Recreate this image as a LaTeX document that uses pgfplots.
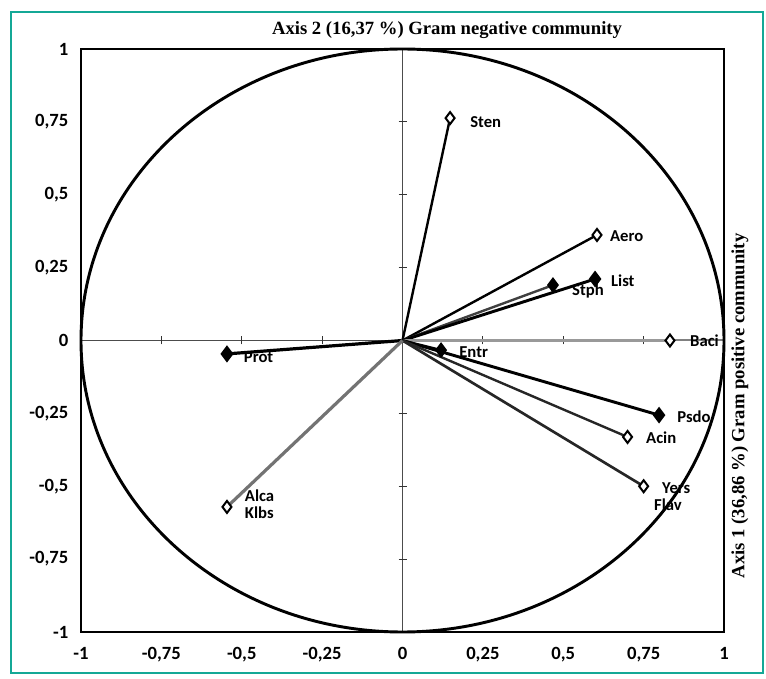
\documentclass[border=0pt]{standalone}
\usepackage{pgfplots}
\pgfplotsset{compat=1.18}
\usepackage{fontspec}
\setmainfont{Carlito}
\newfontfamily\serifb{Liberation Serif}
\definecolor{teal1}{RGB}{20,168,150}
\begin{document}
\begin{tikzpicture}[x=0.75pt,y=0.75pt]
\useasboundingbox (-81,-46) rectangle (685,632);
\draw[teal1,line width=2.2pt] (-70,-41) rectangle (682,620);
\begin{axis}[
  at={(0,0)}, anchor=south west,
  width=482.25pt, height=437.25pt, scale only axis,
  xmin=-1, xmax=1, ymin=-1, ymax=1,
  xtick={-1,-0.75,...,1}, ytick={-1,-0.75,...,1},
  /pgf/number format/use comma,
  /pgf/number format/assume math mode=true,
  tick style={draw=none},
  ticklabel style={font=\fontsize{14}{15}\selectfont\bfseries},
  xticklabel style={yshift=-8pt},
  yticklabel style={xshift=-6pt},
  axis line style={line width=2.2pt},
  clip=false,
]
% zero lines
\draw[gray!60!black,line width=1.2pt] (axis cs:0,-1) -- (axis cs:0,1);
\draw[gray,line width=1.5pt] (axis cs:0,0) -- (axis cs:1,0);
\draw[gray!60!black,line width=1.3pt] (axis cs:-1,0) -- (axis cs:0,0);
\pgfplotsinvokeforeach{-0.75,-0.5,-0.25,0.25,0.5,0.75}{
  \draw[black!80,line width=0.8pt] (axis cs:#1,0) ++(0pt,-3pt) -- ++(0pt,6pt);
  \draw[black!80,line width=0.8pt] (axis cs:0,#1) ++(-3pt,0pt) -- ++(6pt,0pt);
}
% circle
\draw[black,line width=2.2pt] (axis cs:0,0) ellipse [x radius=1, y radius=1];
% vectors
\tikzset{openm/.style={mark=diamond*,mark indices={2},mark size=4.5pt,mark options={fill=white,draw=black,line width=1.5pt,solid}},
         fullm/.style={mark=diamond*,mark indices={2},mark size=4.5pt,mark options={fill=black,draw=black,solid}}}
\addplot[black,line width=1.8pt,openm] coordinates {(0,0) (0.148,0.763)};
\addplot[black,line width=1.8pt,openm] coordinates {(0,0) (0.605,0.362)};
\addplot[black!75,line width=1.8pt,fullm] coordinates {(0,0) (0.468,0.190)};
\addplot[black,line width=2.2pt,fullm] coordinates {(0,0) (0.599,0.211)};
\addplot[gray!80,line width=1.8pt,openm] coordinates {(0,0) (0.832,0.0)};
\addplot[black,line width=1.8pt,fullm] coordinates {(0,0) (0.12,-0.033)};
\addplot[black,line width=2.2pt,fullm] coordinates {(0,0) (0.798,-0.256)};
\addplot[black!85,line width=1.8pt,openm] coordinates {(0,0) (0.70,-0.331)};
\addplot[black!85,line width=2pt,openm] coordinates {(0,0) (0.75,-0.50)};
\addplot[black,line width=2.4pt,fullm] coordinates {(0,0) (-0.546,-0.046)};
\addplot[black!55,line width=2.4pt,openm] coordinates {(0,0) (-0.546,-0.571)};
% labels
\tikzset{lab/.style={anchor=west,inner sep=0pt,font=\fontsize{12.5}{13}\selectfont\bfseries}}
\node[lab] at (axis cs:0.21,0.75) {Sten};
\node[lab] at (axis cs:0.645,0.358) {Aero};
\node[lab] at (axis cs:0.648,0.204) {List};
\node[lab] at (axis cs:0.527,0.17) {Stph};
\node[lab] at (axis cs:0.894,0) {Baci};
\node[lab] at (axis cs:0.176,-0.04) {Entr};
\node[lab] at (axis cs:0.854,-0.26) {Psdo};
\node[lab] at (axis cs:0.757,-0.334) {Acin};
\node[lab] at (axis cs:0.807,-0.506) {Yers};
\node[lab] at (axis cs:0.782,-0.564) {Flav};
\node[lab] at (axis cs:-0.494,-0.057) {Prot};
\node[lab] at (axis cs:-0.491,-0.533) {Alca};
\node[lab] at (axis cs:-0.491,-0.592) {Klbs};
\end{axis}
\node[font=\serifb\fontsize{14}{15}\selectfont\bfseries] at (366,602) {Axis 2 (16,37 \%) Gram negative community};
\node[font=\serifb\fontsize{14}{15}\selectfont\bfseries,rotate=90] at (659,226) {Axis 1 (36,86 \%) Gram positive community};
\end{tikzpicture}
\end{document}
